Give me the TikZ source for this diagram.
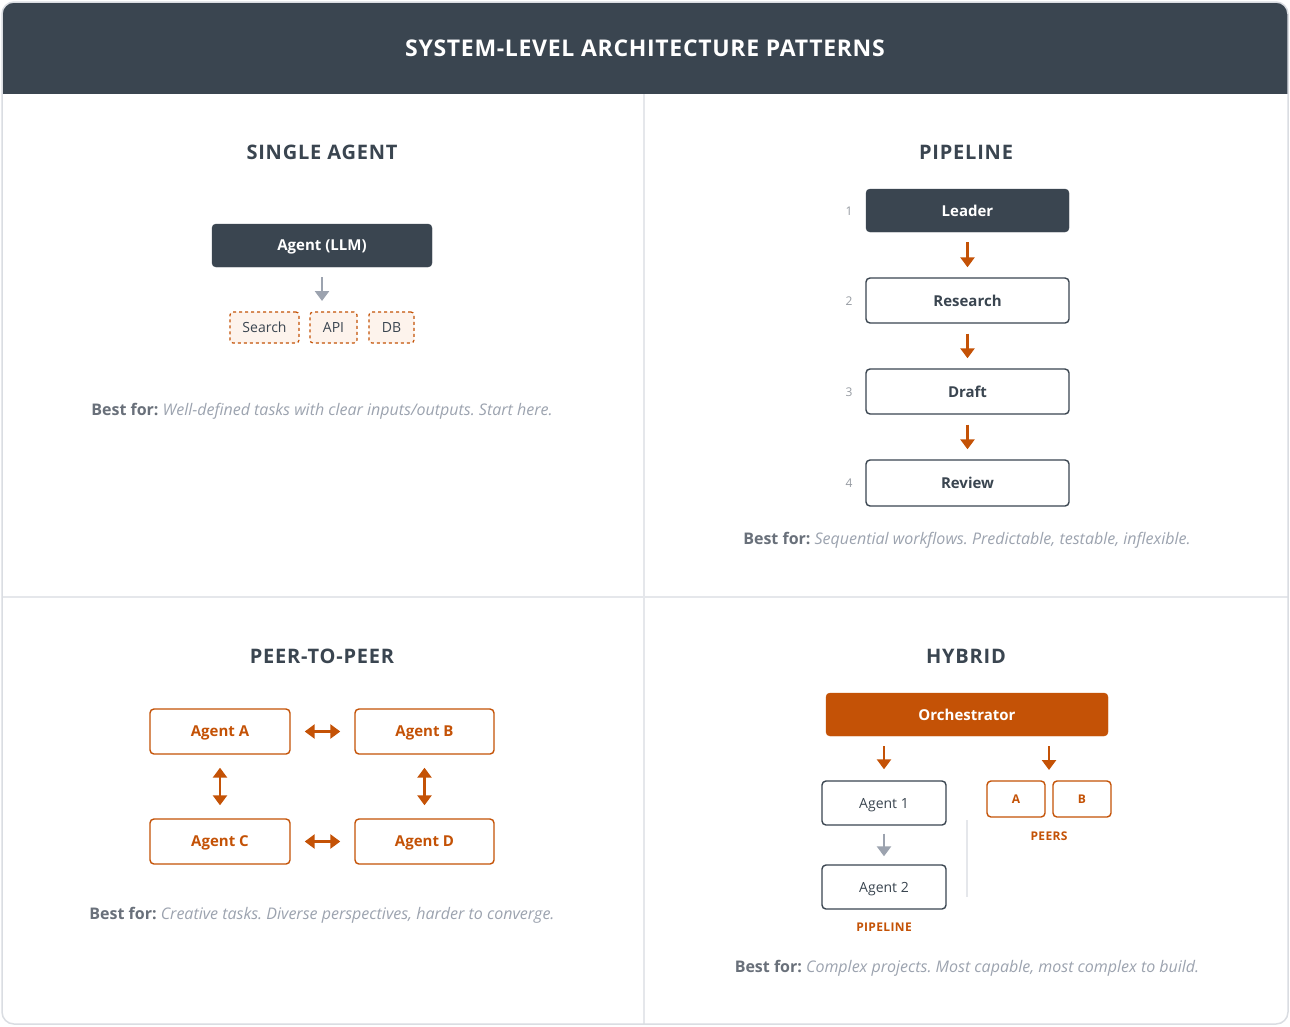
\documentclass[tikz,border=0pt]{standalone}
\usepackage{fontspec}
\setmainfont{Open Sans}
\usetikzlibrary{arrows.meta}
\frenchspacing
\definecolor{dark}{RGB}{58,69,80}
\definecolor{org}{RGB}{196,82,6}
\definecolor{orgfill}{RGB}{253,243,236}
\definecolor{frame}{RGB}{218,221,226}
\definecolor{divline}{RGB}{229,231,235}
\definecolor{bestgray}{RGB}{105,112,122}
\definecolor{descgray}{RGB}{156,163,175}
\definecolor{arrgray}{RGB}{156,163,175}
\definecolor{numgray}{RGB}{150,155,162}
\tikzset{
  darkbox/.style={draw=dark,fill=dark,rounded corners=4pt,text=white,font=\fontsize{15}{18}\selectfont\bfseries,inner sep=0pt,text depth=0pt},
  outbox/.style={draw=dark,line width=1.4pt,fill=white,rounded corners=4pt,text=dark,font=\fontsize{15}{18}\selectfont\bfseries,inner sep=0pt,text depth=0pt},
  orgbox/.style={draw=org,line width=1.4pt,fill=white,rounded corners=4pt,text=org,font=\fontsize{15}{18}\selectfont\bfseries,inner sep=0pt,text depth=0pt},
  toolbox/.style={draw=org,dashed,line width=1.2pt,fill=orgfill,rounded corners=3pt,text=dark,font=\fontsize{14}{16}\selectfont,inner sep=0pt,minimum height=31pt,text depth=0pt},
  secttitle/.style={text=dark,font=\fontsize{20}{24}\selectfont\bfseries\addfontfeatures{LetterSpace=4}},
  oarr/.style={draw=org,line width=2.8pt,-{Triangle[length=10pt,width=14pt]}},
  oarr2/.style={draw=org,line width=2.8pt,{Triangle[length=10pt,width=14pt]}-{Triangle[length=10pt,width=14pt]}},
  garr/.style={draw=arrgray,line width=2.8pt,-{Triangle[length=10pt,width=14pt]}},
  numlbl/.style={text=numgray,font=\fontsize{12}{14}\selectfont},
  bestfor/.style={font=\fontsize{16}{19}\selectfont},
  smallorg/.style={text=org,font=\fontsize{12}{14}\selectfont\bfseries\addfontfeatures{LetterSpace=3}},
}
\newcommand{\bestline}[1]{{\color{bestgray}\bfseries Best for:} {\color{descgray}\itshape #1}}
\begin{document}
\begin{tikzpicture}[x=1pt,y=-1pt]
\useasboundingbox (0,0) rectangle (1290,1026);
\fill[white] (0,0) rectangle (1290,1026);
% frame and header
\begin{scope}
\clip[rounded corners=12pt] (2,2) rectangle (1288,1024);
\fill[dark] (2,2) rectangle (1288,94);
\end{scope}
\draw[divline,line width=1.5pt] (644,94) -- (644,1024);
\draw[divline,line width=1.5pt] (2,597) -- (1288,597);
\draw[frame,line width=1.5pt,rounded corners=12pt] (2,2) rectangle (1288,1024);
\node[text=white,font=\fontsize{23}{27}\selectfont\bfseries\addfontfeatures{LetterSpace=3}] (hdr) at (645,48) {SYSTEM-LEVEL ARCHITECTURE PATTERNS};

% ---------- Single agent
\node[secttitle] (t1) at (322,152) {SINGLE AGENT};
\node[darkbox,minimum width=220pt,minimum height=43pt] (llm) at (322,245.5) {Agent (LLM)};
\node[toolbox,minimum width=69pt] (search) at (264.5,327.5) {Search};
\node[toolbox,minimum width=47pt] (api) at (333.5,327.5) {API};
\node[toolbox,minimum width=45pt] (db) at (391.5,327.5) {DB};
\coordinate (toolstop) at (322,312);
\draw[garr,shorten <=10pt,shorten >=11pt] (llm.south) -- (toolstop);
\node[bestfor] (b1) at (322,411) {\bestline{Well-defined tasks with clear inputs/outputs. Start here.}};

% ---------- Pipeline
\node[secttitle] (t2) at (966,152) {PIPELINE};
\node[darkbox,minimum width=203pt,minimum height=43pt] (lead) at (967.5,210.5) {Leader};
\node[outbox,minimum width=203pt,minimum height=45pt] (res) at (967.5,300.5) {Research};
\node[outbox,minimum width=203pt,minimum height=45pt] (draft) at (967.5,391.5) {Draft};
\node[outbox,minimum width=203pt,minimum height=46pt] (rev) at (967.5,483) {Review};
\node[numlbl] (n1) at (849,211) {1};
\node[numlbl] (n2) at (849,301) {2};
\node[numlbl] (n3) at (849,392) {3};
\node[numlbl] (n4) at (849,483) {4};
\draw[oarr,shorten <=10pt,shorten >=10pt] (lead.south) -- (res.north);
\draw[oarr,shorten <=10pt,shorten >=10pt] (res.south) -- (draft.north);
\draw[oarr,shorten <=10pt,shorten >=10pt] (draft.south) -- (rev.north);
\node[bestfor] (b2) at (967,540) {\bestline{Sequential workflows. Predictable, testable, inflexible.}};

% ---------- Peer to peer
\node[secttitle] (t3) at (322,656) {PEER-TO-PEER};
\node[orgbox,minimum width=140pt,minimum height=45pt] (aa) at (220,731.5) {Agent A};
\node[orgbox,minimum width=139pt,minimum height=45pt] (ab) at (424.5,731.5) {Agent B};
\node[orgbox,minimum width=140pt,minimum height=45pt] (ac) at (220,841.5) {Agent C};
\node[orgbox,minimum width=139pt,minimum height=45pt] (ad) at (424.5,841.5) {Agent D};
\draw[oarr2,shorten <=14pt,shorten >=14pt] (aa.east) -- (ab.west);
\draw[oarr2,shorten <=14pt,shorten >=14pt] (ac.east) -- (ad.west);
\draw[oarr2,shorten <=13pt,shorten >=13pt] (aa.south) -- (ac.north);
\draw[oarr2,shorten <=13pt,shorten >=13pt] (ab.south) -- (ad.north);
\node[bestfor] (b3) at (322,915) {\bestline{Creative tasks. Diverse perspectives, harder to converge.}};

% ---------- Hybrid
\node[secttitle] (t4) at (966,656) {HYBRID};
\node[draw=org,fill=org,rounded corners=4pt,text=white,font=\fontsize{15}{18}\selectfont\bfseries,inner sep=0pt,text depth=0pt,minimum width=282pt,minimum height=43pt] (orch) at (967,714.5) {Orchestrator};
\node[outbox,font=\fontsize{14}{17}\selectfont,minimum width=124pt,minimum height=44pt] (ag1) at (884,803) {Agent 1};
\node[outbox,font=\fontsize{14}{17}\selectfont,minimum width=124pt,minimum height=44pt] (ag2) at (884,887) {Agent 2};
\node[orgbox,font=\fontsize{12}{14}\selectfont\bfseries,minimum width=58pt,minimum height=36pt] (pa) at (1016,799) {A};
\node[orgbox,font=\fontsize{12}{14}\selectfont\bfseries,minimum width=58pt,minimum height=36pt] (pb) at (1082,799) {B};
\coordinate (peertop) at (1049,781);
\draw[oarr,shorten <=10pt,shorten >=11pt] (orch.south -| ag1.north) -- (ag1.north);
\draw[oarr,shorten <=10pt,shorten >=11pt] (orch.south -| peertop) -- (peertop);
\draw[garr,shorten <=8pt,shorten >=8pt] (ag1.south) -- (ag2.north);
\draw[divline,line width=1.5pt] (967,820) -- (967,897);
\node[smallorg] (peerslbl) at (1049,836) {PEERS};
\node[smallorg] (pipelbl) at (884,927) {PIPELINE};
\node[bestfor] (b4) at (967,968) {\bestline{Complex projects. Most capable, most complex to build.}};
\end{tikzpicture}
\end{document}
